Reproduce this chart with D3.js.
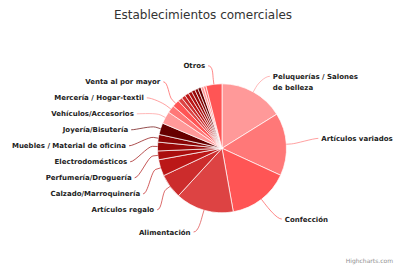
<!DOCTYPE html>
<html>
<head>
<meta charset="utf-8">
<script src="https://cdnjs.cloudflare.com/ajax/libs/d3/7.8.5/d3.min.js"></script>
<style>
  html, body { margin: 0; padding: 0; background: #fff; }
  svg { display: block; }
</style>
</head>
<body>
<div class="box"></div>
<script>
const titulo = 'Establecimientos comerciales';
const credito = 'Highcharts.com';

// null = sector sin etiqueta visible en el original
const categorias = [
  'Peluquerías / Salones<br>de belleza', 'Artículos variados', 'Confección', 'Alimentación',
  'Artículos regalo', 'Calzado/Marroquinería', 'Perfumería/Droguería', 'Electrodomésticos',
  'Muebles / Material de oficina', 'Joyería/Bisutería', 'Vehículos/Accesorios',
  'Mercería / Hogar-textil', 'Venta al por mayor',
  null, null, null, null, null, null, null, null, null,
  'Otros'
];
const cuotas = [
  16.1, 15.7, 15.3, 14.6,
  6.2, 4.1, 2.2, 2.2,
  1.9, 2.9, 3.1,
  1.9, 1.8,
  1.1, 1.0, 1.0, 0.9, 0.9, 0.8, 0.8, 0.7, 0.6,
  4.0
];
const colores = ['#ff9999', '#ff7878', '#ff5555', '#dd4343', '#cc2c2c',
                 '#bb1717', '#aa0e0e', '#990909', '#880404', '#660000'];

const dims = {width: 400, height: 267, radius: 64.5, cx: 222, cy: 148.3};
// réglages des étiquettes (façon Highcharts)
const lab = {distance: 30, slot: 16, shift: -4, top: 59.5, bottom: 237.5, line: 11, ax: 91, by: 85, pad: 5};

const svg = d3.select('.box')
              .append('svg')
              .attr('width', dims.width)
              .attr('height', dims.height);

svg.append('text')
   .attr('x', 203)
   .attr('y', 19)
   .attr('text-anchor', 'middle')
   .style('font-family', 'DejaVu Sans')
   .style('font-size', '12px')
   .style('fill', '#333')
   .text(titulo);

const donnee = categorias.map((nom, i) => ({nom, valeur: cuotas[i], couleur: colores[i % colores.length]}));

const pie = d3.pie()
              .sort(null)
              .value(d => d.valeur);

const arcs = pie(donnee);

const arcPath = d3.arc()
                  .innerRadius(0)
                  .outerRadius(dims.radius);

const graph = svg.append('g')
                 .attr('transform', `translate(${dims.cx}, ${dims.cy})`);

graph.selectAll('path')
     .data(arcs)
     .enter()
     .append('path')
     .attr('d', arcPath)
     .attr('fill', d => d.data.couleur)
     .attr('stroke', '#fff')
     .attr('stroke-width', 0.7)
     .attr('stroke-linejoin', 'round');

// placement des étiquettes
const R = dims.radius + lab.distance;
const labels = arcs.filter(a => a.data.nom).map(a => {
    const ang = (a.startAngle + a.endAngle) / 2;
    const lignes = a.data.nom.split('<br>');
    return {a, ang, lignes, gauche: ang > Math.PI,
            natY: dims.cy - R * Math.cos(ang) + lab.shift,
            half: lignes.length * lab.line / 2};
});

const slots = d3.range(0, Math.floor(2 * R / lab.slot) + 1)
                .map(k => dims.cy - R + lab.shift + k * lab.slot);
const valide = (s, l) => s - l.half >= lab.top && s + l.half <= lab.bottom;

[true, false].forEach(g => {
    const cote = labels.filter(l => l.gauche === g).sort((p, q) => p.natY - q.natY);
    const pris = slots.map(() => false);
    cote.forEach(l => {
        let best = -1;
        slots.forEach((s, k) => {
            if (!pris[k] && valide(s, l) &&
                (best < 0 || Math.abs(s - l.natY) < Math.abs(slots[best] - l.natY))) best = k;
        });
        pris[best] = true;
        l.k = best;
    });
    const libre = (k, l) => k < 0 || k >= slots.length || (!pris[k] && valide(slots[k], l));
    cote.forEach((l, i) => {
        let y = slots[l.k];
        if ((l.natY > y && libre(l.k + 1, l)) || (l.natY < y && libre(l.k - 1, l))) {
            y = l.natY;
            l.naturel = true;
        }
        l.y = Math.max(lab.top + l.half, Math.min(lab.bottom - l.half, y));
        if (i === 0 || i === cote.length - 1) l.naturel = true;
    });
});

labels.forEach(l => {
    const s = l.gauche ? -1 : 1;
    if (l.naturel) {
        l.x = dims.cx + R * Math.sin(l.ang);
    } else {
        const t = (l.y - dims.cy) / lab.by;
        l.x = dims.cx + s * lab.ax * Math.sqrt(Math.max(0, 1 - t * t));
    }
    l.s = s;
    l.y0 = l.y - (l.lignes.length - 1) * lab.line / 2;
});

const edge = (l, rr) => [dims.cx + rr * Math.sin(l.ang), dims.cy - rr * Math.cos(l.ang)];

svg.append('g')
   .selectAll('path')
   .data(labels)
   .enter()
   .append('path')
   .attr('d', l => {
       const p4 = edge(l, dims.radius);
       const p2 = edge(l, dims.radius + 5);
       const p = d3.path();
       p.moveTo(l.x + l.s * 2, l.y0);
       p.bezierCurveTo(l.x - l.s * 3, l.y0, 2 * p2[0] - p4[0], 2 * p2[1] - p4[1], p2[0], p2[1]);
       p.lineTo(p4[0], p4[1]);
       return p.toString();
   })
   .attr('fill', 'none')
   .attr('stroke', l => l.a.data.couleur)
   .attr('stroke-width', 0.7);

const textes = svg.append('g')
                  .selectAll('text')
                  .data(labels)
                  .enter()
                  .append('text')
                  .attr('text-anchor', l => l.gauche ? 'end' : 'start')
                  .style('font-family', 'DejaVu Sans')
                  .style('font-size', '7px')
                  .style('font-weight', 'bold')
                  .style('fill', '#222');

textes.selectAll('tspan')
      .data(l => l.lignes.map((t, i) => ({t, i, l})))
      .enter()
      .append('tspan')
      .attr('x', d => d.l.x + d.l.s * lab.pad)
      .attr('y', d => d.l.y0 + d.i * lab.line + 2.5)
      .text(d => d.t);

svg.append('text')
   .attr('x', 393)
   .attr('y', 263)
   .attr('text-anchor', 'end')
   .style('font-family', 'DejaVu Sans')
   .style('font-size', '6px')
   .style('fill', '#909090')
   .text(credito);
</script>
</body>
</html>
